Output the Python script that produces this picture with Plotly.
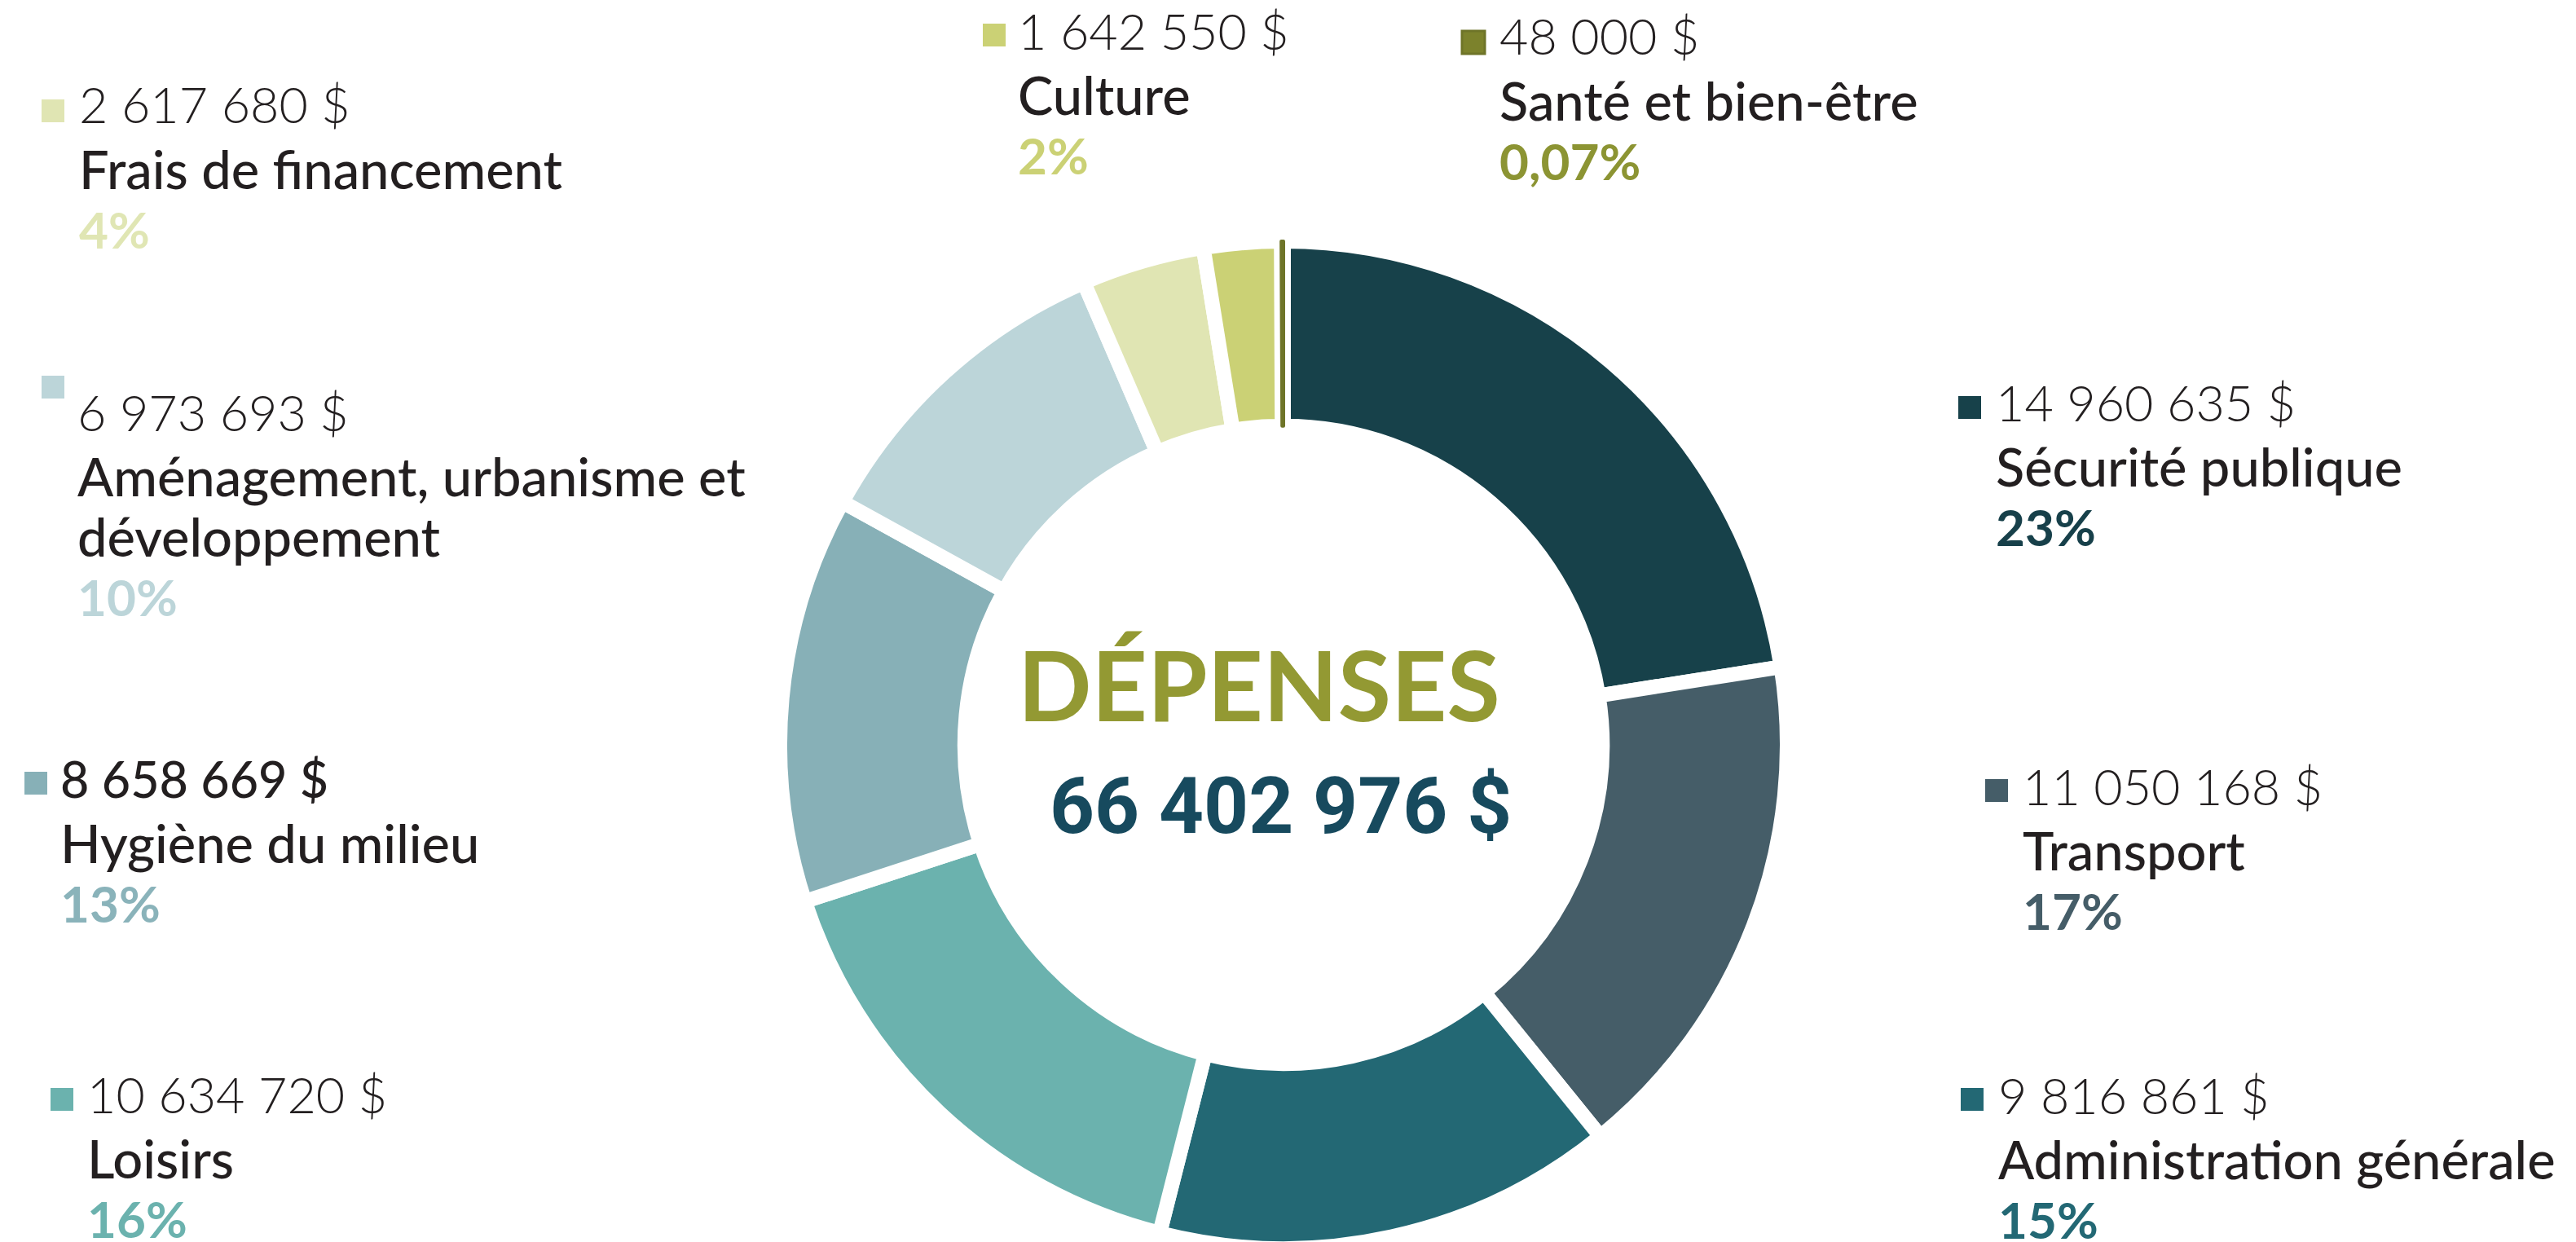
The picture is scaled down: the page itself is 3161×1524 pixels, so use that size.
import plotly.graph_objects as go

W, H = 3161, 1524

categories = ["Sécurité publique", "Transport", "Administration générale", "Loisirs",
              "Hygiène du milieu", "Aménagement, urbanisme et développement",
              "Frais de financement", "Culture", "Santé et bien-être"]
amounts = [14960635, 11050168, 9816861, 10634720, 8658669, 6973693, 2617680, 1642550, 48000]
pct_labels = ["23%", "17%", "15%", "16%", "13%", "10%", "4%", "2%", "0,07%"]
slice_colors = ["#17414A", "#455D68", "#236874", "#6BB2AE", "#87B0B7",
                "#BCD5D9", "#E0E5B3", "#CBD175", "#7C822C"]
pct_colors = ["#17404A", "#455D68", "#236874", "#6BB2AE", "#8AB3BA",
              "#BCD5D9", "#E0E6B4", "#CBD175", "#8C9433"]
name_lines = [["Sécurité publique"], ["Transport"], ["Administration générale"], ["Loisirs"],
              ["Hygiène du milieu"], ["Aménagement, urbanisme et", "développement"],
              ["Frais de financement"], ["Culture"], ["Santé et bien-être"]]
total_label = "66 402 976 $"
title_label = "DÉPENSES"

# label block positions in px: square centre x, y, text left x, first line y
label_pos = [
    (2409, 492, 2451, 496),
    (2442, 962, 2484, 967),
    (2412, 1341, 2454, 1346),
    (68, 1341, 109, 1345),
    (36, 953, 76, 958),
    (57, 467, 97, 508),
    (57, 128, 99, 131),
    (1212, 35, 1251, 40),
    (1800, 44, 1842, 47),
]
amount_weights = [300, 300, 300, 300, 500, 300, 300, 300, 300]

FONT = "Lato"
FS_AMT, FS_NAME, FS_PCT = 61, 65, 62
SQ = 28
DX, DY = -12, -11   # text box offset relative to visual glyph position

line_w = [18] * len(amounts)
line_c = ["white"] * len(amounts)
line_w[-1] = 4
line_c[-1] = "#6E7428"

# pie geometry
cx, cy, R = 1567, 906, 618
fig = go.Figure(go.Pie(
    labels=categories, values=amounts, sort=False, direction="clockwise", rotation=0,
    hole=0.633, textinfo="none", hoverinfo="label+value+percent",
    marker=dict(colors=slice_colors, line=dict(color=line_c, width=line_w)),
    domain=dict(x=[(cx - R) / W, (cx + R) / W], y=[max(0, (H - cy - R) / H), (H - cy + R) / H]),
    showlegend=False,
))

def px(x):
    return x / W

def py(y):
    return 1 - y / H

annotations = []
shapes = []
last = len(categories) - 1
for i, cat in enumerate(categories):
    sx, sy, tx, ty = label_pos[i]
    shapes.append(dict(type="rect", xref="paper", yref="paper",
                       x0=px(sx - SQ / 2), x1=px(sx + SQ / 2),
                       y0=py(sy + SQ / 2), y1=py(sy - SQ / 2),
                       fillcolor=slice_colors[i],
                       line=dict(color=line_c[i] if i == last else slice_colors[i],
                                 width=3 if i == last else 0)))
    amt_txt = f"{amounts[i]:,}".replace(",", " ") + " $"
    x = tx + DX
    y = ty + DY
    annotations.append(dict(x=px(x), y=py(y), xref="paper", yref="paper", xanchor="left", yanchor="middle",
                            text=amt_txt, showarrow=False,
                            font=dict(family=FONT, size=FS_AMT, color="#231F20", weight=amount_weights[i])))
    y += 79
    for j, ln in enumerate(name_lines[i]):
        if j > 0:
            y += 74
        annotations.append(dict(x=px(x), y=py(y), xref="paper", yref="paper", xanchor="left", yanchor="middle",
                                text=ln, showarrow=False,
                                font=dict(family=FONT, size=FS_NAME, color="#231F20", weight=500)))
    y += 74
    annotations.append(dict(x=px(x), y=py(y), xref="paper", yref="paper", xanchor="left", yanchor="middle",
                            text=pct_labels[i], showarrow=False,
                            font=dict(family=FONT, size=FS_PCT, color=pct_colors[i], weight=700)))

annotations.append(dict(x=px(1537), y=py(831), xref="paper", yref="paper", xanchor="center", yanchor="middle",
                        text=title_label, showarrow=False,
                        font=dict(family=FONT, size=119, color="#939933", weight=700)))
annotations.append(dict(x=px(1563), y=py(981), xref="paper", yref="paper", xanchor="center", yanchor="middle",
                        text=total_label, showarrow=False,
                        font=dict(family="Roboto", size=96, color="#174A5E", weight=700)))

fig.update_layout(width=W, height=H, margin=dict(l=0, r=0, t=0, b=0),
                  paper_bgcolor="white", plot_bgcolor="white",
                  annotations=annotations, shapes=shapes)

fig.write_html("out.html")
